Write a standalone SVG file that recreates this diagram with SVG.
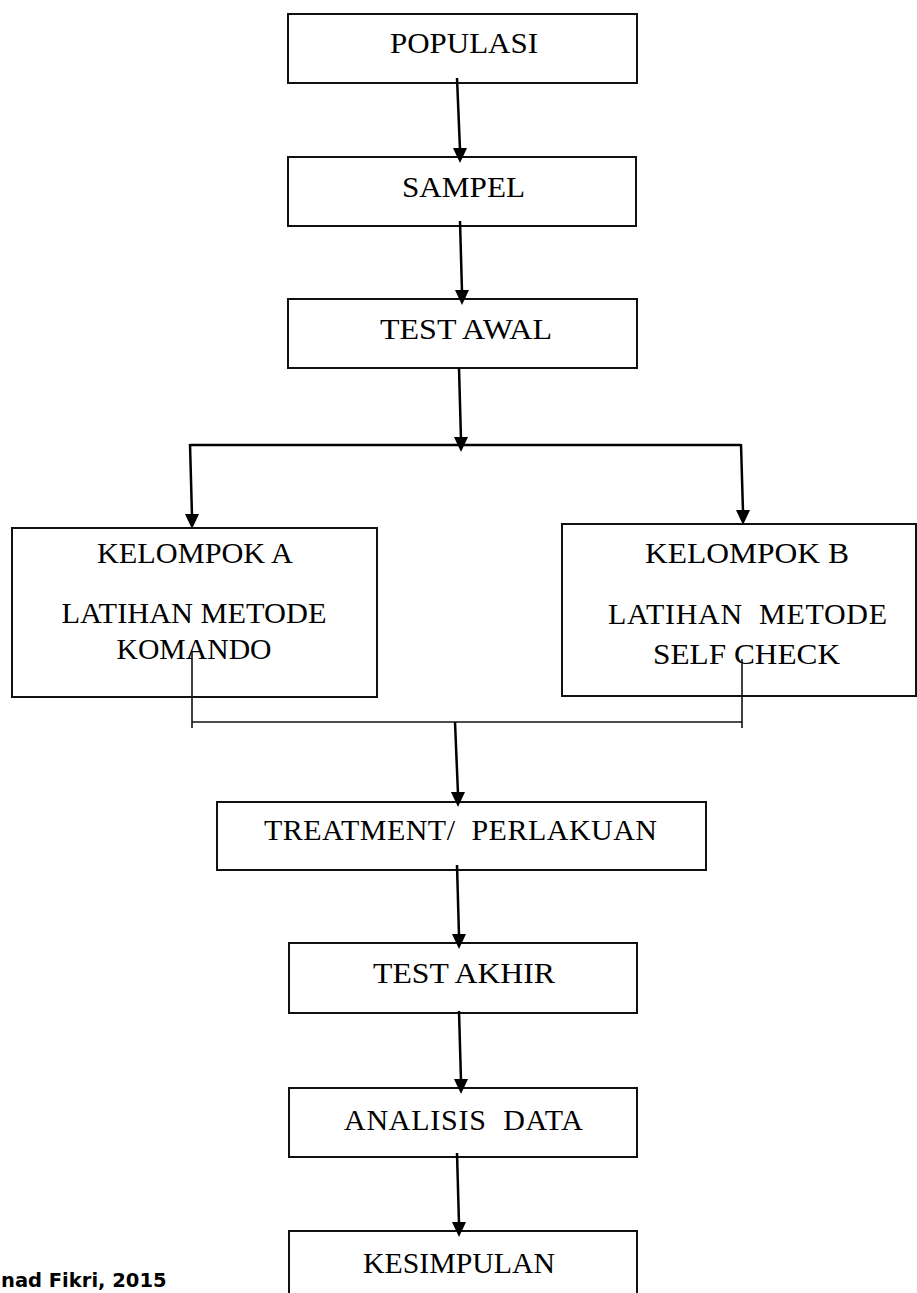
<svg xmlns="http://www.w3.org/2000/svg" xmlns:xlink="http://www.w3.org/1999/xlink" width="917" height="1293" viewBox="0 0 917 1293">
<style>
.box{fill:#fff;stroke:#111;stroke-width:2}
.lbl{font-family:"Liberation Serif","Times New Roman",serif;font-size:30px;fill:#000;text-anchor:middle}
.ln{stroke:#000;stroke-width:2.5;fill:none}
.thin{stroke:#111;stroke-width:1.6;fill:none}
.foot{font-family:"DejaVu Sans",Verdana,sans-serif;font-weight:bold;font-size:19.5px;fill:#000}
</style>
<defs>
<path id="head" d="M-7,-15 L7,-15 L0,0 Z" fill="#000"/>
</defs>
<rect width="917" height="1293" fill="#fff"/>

<g id="populasi"><rect class="box" x="288" y="14" width="349" height="69"/><text class="lbl" x="464" y="53" textLength="148" lengthAdjust="spacingAndGlyphs">POPULASI</text></g>
<g id="sampel"><rect class="box" x="288" y="157" width="348" height="69"/><text class="lbl" x="463.5" y="197" textLength="123" lengthAdjust="spacingAndGlyphs">SAMPEL</text></g>
<g id="test-awal"><rect class="box" x="288" y="299" width="349" height="69"/><text class="lbl" x="466" y="339" textLength="172" lengthAdjust="spacingAndGlyphs">TEST AWAL</text></g>
<g id="kelompok-a"><rect class="box" x="12" y="528" width="365" height="169"/>
<text class="lbl" x="195" y="563" textLength="196" lengthAdjust="spacingAndGlyphs">KELOMPOK A</text>
<text class="lbl" x="194" y="623" textLength="265" lengthAdjust="spacingAndGlyphs">LATIHAN METODE</text>
<text class="lbl" x="194" y="659" textLength="155" lengthAdjust="spacingAndGlyphs">KOMANDO</text></g>
<g id="kelompok-b"><rect class="box" x="562" y="524" width="354" height="172"/>
<text class="lbl" x="747" y="563" textLength="204" lengthAdjust="spacingAndGlyphs">KELOMPOK B</text>
<text class="lbl" x="747.5" y="624" textLength="279" lengthAdjust="spacing" xml:space="preserve">LATIHAN  METODE</text>
<text class="lbl" x="746.5" y="664" textLength="187" lengthAdjust="spacingAndGlyphs">SELF CHECK</text></g>
<g id="treatment"><rect class="box" x="217" y="802" width="489" height="68"/><text class="lbl" x="460.5" y="840" textLength="393" lengthAdjust="spacing" xml:space="preserve">TREATMENT/  PERLAKUAN</text></g>
<g id="test-akhir"><rect class="box" x="289" y="943" width="348" height="70"/><text class="lbl" x="464" y="983" textLength="182" lengthAdjust="spacingAndGlyphs">TEST AKHIR</text></g>
<g id="analisis-data"><rect class="box" x="289" y="1088" width="348" height="69"/><text class="lbl" x="463.5" y="1130" textLength="239" lengthAdjust="spacing" xml:space="preserve">ANALISIS  DATA</text></g>
<g id="kesimpulan"><rect class="box" x="289" y="1231" width="348" height="80"/><text class="lbl" x="459" y="1273" textLength="192" lengthAdjust="spacingAndGlyphs">KESIMPULAN</text></g>

<g id="connectors">
<line class="ln" x1="457" y1="78" x2="460" y2="150"/><use xlink:href="#head" href="#head" x="460" y="163"/>
<line class="ln" x1="460" y1="221" x2="462" y2="292"/><use xlink:href="#head" href="#head" x="462" y="305"/>
<line class="ln" x1="459" y1="368" x2="461" y2="440"/><use xlink:href="#head" href="#head" x="461" y="452"/>
<line class="ln" x1="190" y1="445" x2="741" y2="445"/>
<line class="ln" x1="190" y1="444" x2="192" y2="516"/><use xlink:href="#head" href="#head" x="192" y="529"/>
<line class="ln" x1="741" y1="444" x2="743" y2="512"/><use xlink:href="#head" href="#head" x="743" y="525"/>
<line class="thin" x1="192" y1="652" x2="192" y2="728"/>
<line class="thin" x1="192" y1="722" x2="742" y2="722"/>
<line class="thin" x1="742" y1="659" x2="742" y2="728"/>
<line class="ln" x1="455" y1="722" x2="458" y2="794"/><use xlink:href="#head" href="#head" x="458" y="807"/>
<line class="ln" x1="457" y1="865" x2="459" y2="936"/><use xlink:href="#head" href="#head" x="459" y="949"/>
<line class="ln" x1="459" y1="1011" x2="461" y2="1081"/><use xlink:href="#head" href="#head" x="461" y="1094"/>
<line class="ln" x1="457" y1="1153" x2="459" y2="1224"/><use xlink:href="#head" href="#head" x="459" y="1237"/>
</g>

<g id="footer"><text class="foot" x="1" y="1287">nad Fikri, 2015</text></g>
</svg>
